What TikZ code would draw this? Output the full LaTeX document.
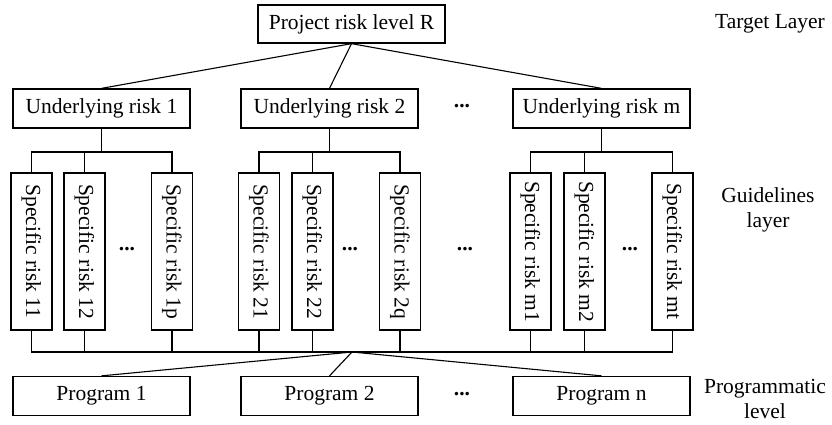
\documentclass[tikz,border=0pt]{standalone}
\usepackage{fontspec}
\setmainfont{Liberation Serif}
\usepackage{tikz}
\usetikzlibrary{positioning}

\tikzset{
  wbox/.style={draw, line width=1.3pt, inner sep=0pt, minimum width=177pt, minimum height=39pt},
  sbox/.style={draw, line width=1.3pt, inner sep=0pt, rotate=-90, minimum width=157pt, minimum height=41pt},
  dots/.style={font=\fontsize{21.5}{25}\selectfont\bfseries},
  wire/.style={line width=1.1pt}
}

\begin{document}
\begin{tikzpicture}[x=1pt, y=-1pt, font=\fontsize{21.5}{25}\selectfont]
  \useasboundingbox (0,0) rectangle (832,424);

  % Target layer
  \node[wbox, minimum width=187pt, minimum height=38pt] (R) at (351.5,24) {Project risk level R};
  \node (tgt) at (770,24) {Target Layer};

  % Underlying risks
  \node[wbox] (U1) at (101.5,108.5) {Underlying risk 1};
  \node[wbox] (U2) at (329.5,108.5) {Underlying risk 2};
  \node[dots] (ud) at (462,106) {...};
  \node[wbox] (Um) at (601.5,108.5) {Underlying risk m};

  % Specific risks
  \foreach \n/\x in {11/31.5, 12/84.5, 1p/172, 21/259, 22/312.5, 2q/400, m1/530.5, m2/584.5, mt/672.5}
  {
    \node[sbox] (s\n) at (\x,251.5) {Specific risk \n};
  }
  \foreach \n/\x in {d1/127, d2/350, d3/465, d4/630}
  {
    \node[dots] (\n) at (\x,249) {...};
  }
  \node[align=center] (gdl) at (768,210) {Guidelines\\layer};

  % Programs
  \node[wbox] (P1) at (101.5,396) {Program 1};
  \node[wbox] (P2) at (329.5,396) {Program 2};
  \node[dots] (pd) at (462,394) {...};
  \node[wbox] (Pn) at (601.5,396) {Program n};
  \node[align=center] (prg) at (765,399) {Programmatic\\level};

  % Buses
  \coordinate (top1) at (101.5,152);
  \coordinate (top2) at (329.5,152);
  \coordinate (topm) at (601.5,152);
  \coordinate (bot) at (352,352);

  % Connections
  \draw[wire] (R.south) -- (U1.north);
  \draw[wire] (R.south) -- (U2.north);
  \draw[wire] (R.south) -- (Um.north);

  \draw[wire] (U1.south) -- (top1);
  \draw[wire] (U2.south) -- (top2);
  \draw[wire] (Um.south) -- (topm);
  \draw[wire] (s11.west) |- (top1) -| (s1p.west);
  \draw[wire] (s12.west) -- (s12.west |- top1);
  \draw[wire] (s21.west) |- (top2) -| (s2q.west);
  \draw[wire] (s22.west) -- (s22.west |- top2);
  \draw[wire] (sm1.west) |- (topm) -| (smt.west);
  \draw[wire] (sm2.west) -- (sm2.west |- topm);

  \draw[wire] (s11.east) |- (bot) -| (smt.east);
  \foreach \n in {12, 1p, 21, 22, 2q, m1, m2}
  {
    \draw[wire] (s\n.east) -- (s\n.east |- bot);
  }
  \draw[wire] (bot) -- (P1.north);
  \draw[wire] (bot) -- (P2.north);
  \draw[wire] (bot) -- (Pn.north);
\end{tikzpicture}
\end{document}
